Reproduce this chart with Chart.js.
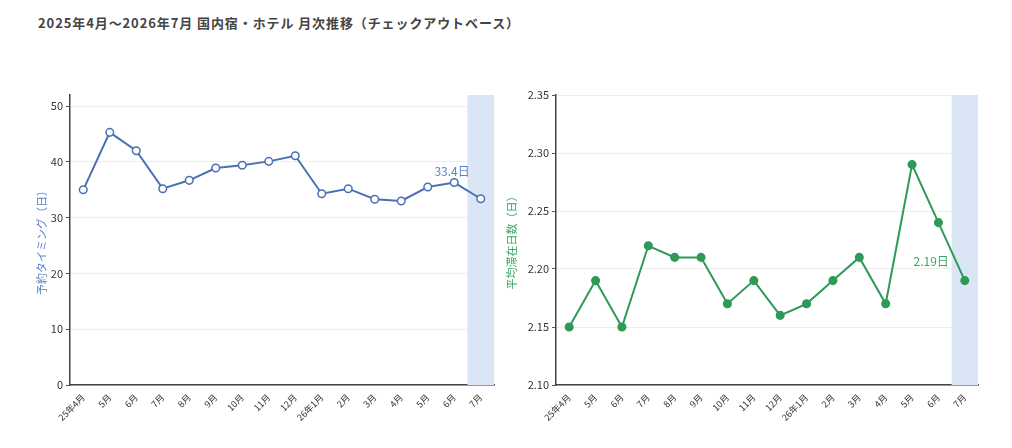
<!DOCTYPE html>
<html>
<head>
<meta charset="utf-8">
<script src="https://cdn.jsdelivr.net/npm/chart.js@4"></script>
<style>
  body { margin: 0; background: #fff; width: 1012px; height: 448px; overflow: hidden; position: relative; font-family: "Noto Sans CJK JP", sans-serif; }
  #title { position: absolute; left: 38px; top: 13px; font-size: 13px; font-weight: bold; color: #444; letter-spacing: 0.9px; }
  .box { position: absolute; top: 80px; height: 368px; }
  #leftBox { left: 35px; width: 465px; }
  #rightBox { left: 505px; width: 485px; }
</style>
</head>
<body>
<div id="title">2025年4月～2026年7月 国内宿・ホテル 月次推移（チェックアウトベース）</div>
<div class="box" id="leftBox"><canvas id="leadChart"></canvas></div>
<div class="box" id="rightBox"><canvas id="stayChart"></canvas></div>
<script>
const months = ['25年4月', '5月', '6月', '7月', '8月', '9月', '10月', '11月', '12月',
                '26年1月', '2月', '3月', '4月', '5月', '6月', '7月'];
const leadDays = [35.0, 45.3, 42.0, 35.2, 36.7, 38.9, 39.4, 40.1, 41.1, 34.3, 35.2, 33.3, 33.0, 35.5, 36.3, 33.4];
const stayDays = [2.15, 2.19, 2.15, 2.22, 2.21, 2.21, 2.17, 2.19, 2.16, 2.17, 2.19, 2.21, 2.17, 2.29, 2.24, 2.19];
const leadTicks = [0, 10, 20, 30, 40, 50];
const stayTicks = [2.10, 2.15, 2.20, 2.25, 2.30, 2.35];
const highlightIndex = 15;

const fontFamily = '"Noto Sans CJK JP", sans-serif';

// shade the latest month and write its value near the last point
function highlightPlugin(color, labelColor, fmt, dx, dy) {
    return {
        id: 'highlight',
        beforeDatasetsDraw(chart) {
            const x = chart.scales.x;
            const area = chart.chartArea;
            const c = x.getPixelForValue(highlightIndex);
            const half = (x.getPixelForValue(1) - x.getPixelForValue(0)) / 2;
            const ctx = chart.ctx;
            ctx.save();
            ctx.fillStyle = color;
            ctx.fillRect(c - half, area.top, half * 2, area.bottom - area.top);
            ctx.restore();
        },
        afterDatasetsDraw(chart) {
            const pt = chart.getDatasetMeta(0).data[highlightIndex];
            const ctx = chart.ctx;
            ctx.save();
            ctx.font = '12px ' + fontFamily;
            ctx.fillStyle = labelColor;
            ctx.textAlign = 'right';
            ctx.textBaseline = 'middle';
            ctx.fillText(fmt(chart.data.datasets[0].data[highlightIndex]), pt.x + dx, pt.y + dy);
            ctx.restore();
        }
    };
}

function makeChart(id, data, opts) {
    return new Chart(document.getElementById(id).getContext('2d'), {
        type: 'line',
        data: {
            labels: months,
            datasets: [{
                data: data,
                borderColor: opts.color,
                backgroundColor: opts.pointFill,
                pointBorderColor: opts.color,
                pointBackgroundColor: opts.pointFill,
                pointRadius: 3.8,
                pointBorderWidth: 1.5,
                borderWidth: 2,
                tension: 0
            }]
        },
        options: {
            responsive: true,
            maintainAspectRatio: false,
            animation: false,
            layout: { padding: { top: 15, right: opts.padRight, bottom: 0, left: 0 } },
            plugins: { legend: { display: false }, tooltip: { enabled: false } },
            scales: {
                x: {
                    offset: true,
                    grid: { display: false, drawTicks: true, tickLength: 5, tickColor: '#555', offset: false },
                    border: { color: '#444', width: 1.5 },
                    ticks: {
                        color: '#333', autoSkip: false, maxRotation: 45, minRotation: 45,
                        font: { family: fontFamily, size: 9 }, padding: 2
                    },
                    afterFit(scale) { scale.height = 63; }
                },
                y: {
                    min: opts.min, max: opts.max,
                    grid: { color: '#eeeeee', tickLength: 4, tickColor: '#555' },
                    border: { color: '#444', width: 1.5 },
                    ticks: {
                        color: '#333', padding: 3,
                        font: { family: fontFamily, size: 11 },
                        callback: opts.tickFmt
                    },
                    afterBuildTicks(scale) {
                        scale.ticks = opts.ticks.map(v => ({ value: v }));
                    },
                    title: {
                        display: true, text: opts.title, color: opts.titleColor,
                        font: { family: fontFamily, size: 11 }, padding: 0
                    },
                    afterFit(scale) { scale.width = opts.yWidth; }
                }
            }
        },
        plugins: [highlightPlugin('#dae6f5', opts.labelColor, opts.labelFmt, opts.dx, opts.dy)]
    });
}

makeChart('leadChart', leadDays, {
    color: '#4a70b5', pointFill: '#ffffff', min: 0, max: 52, ticks: leadTicks,
    tickFmt: v => v,
    title: '予約タイミング（日）', titleColor: '#5b82c8',
    labelColor: '#5b82c8', labelFmt: v => v.toFixed(1) + '日', dx: -11, dy: -27,
    yWidth: 35, padRight: 6
});

makeChart('stayChart', stayDays, {
    color: '#2e9a58', pointFill: '#2e9a58', min: 2.10, max: 2.35, ticks: stayTicks,
    tickFmt: v => v.toFixed(2),
    title: '平均滞在日数（日）', titleColor: '#3aa568',
    labelColor: '#3aa568', labelFmt: v => v.toFixed(2) + '日', dx: -16, dy: -19,
    yWidth: 51, padRight: 12
});
</script>
</body>
</html>
